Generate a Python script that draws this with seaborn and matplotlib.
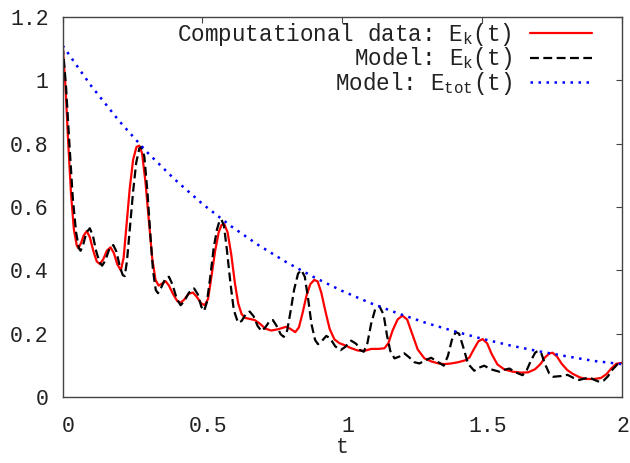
import numpy as np
import pandas as pd
import matplotlib
matplotlib.use("Agg")
import matplotlib.pyplot as plt
import matplotlib.transforms as mtransforms
import seaborn as sns

# ---- data ----
t_comp = [0.000, 0.010, 0.020, 0.030, 0.040, 0.050, 0.056, 0.065, 0.075, 0.086, 0.097, 0.110, 0.122, 0.133,
          0.145, 0.158, 0.171, 0.183, 0.195, 0.208, 0.218, 0.228, 0.240, 0.252, 0.264, 0.274, 0.284, 0.296,
          0.308, 0.320, 0.332, 0.343, 0.355, 0.368, 0.380, 0.395, 0.410, 0.422, 0.435, 0.450, 0.466, 0.480,
          0.495, 0.508, 0.520, 0.532, 0.545, 0.558, 0.568, 0.578, 0.590, 0.603, 0.616, 0.628, 0.640, 0.652,
          0.668, 0.687, 0.705, 0.725, 0.746, 0.770, 0.800, 0.815, 0.832, 0.845, 0.858, 0.872, 0.886, 0.900,
          0.912, 0.925, 0.940, 0.955, 0.972, 0.990, 1.008, 1.030, 1.055, 1.080, 1.104, 1.130, 1.151, 1.165,
          1.180, 1.198, 1.215, 1.232, 1.250, 1.270, 1.294, 1.320, 1.345, 1.365, 1.390, 1.415, 1.440, 1.455,
          1.470, 1.487, 1.502, 1.518, 1.535, 1.555, 1.580, 1.610, 1.640, 1.665, 1.690, 1.710, 1.725, 1.740,
          1.752, 1.768, 1.785, 1.805, 1.825, 1.850, 1.871, 1.900, 1.925, 1.945, 1.962, 1.980, 2.000]
ek_comp = [1.110, 0.980, 0.800, 0.640, 0.530, 0.480, 0.470, 0.485, 0.510, 0.524, 0.505, 0.460, 0.428, 0.420,
           0.435, 0.462, 0.473, 0.455, 0.420, 0.400, 0.440, 0.540, 0.660, 0.750, 0.790, 0.794, 0.770, 0.680,
           0.560, 0.440, 0.370, 0.352, 0.358, 0.366, 0.352, 0.325, 0.303, 0.298, 0.308, 0.326, 0.330, 0.316,
           0.296, 0.290, 0.310, 0.380, 0.460, 0.520, 0.543, 0.546, 0.520, 0.450, 0.360, 0.295, 0.262, 0.250,
           0.247, 0.243, 0.232, 0.216, 0.210, 0.214, 0.222, 0.215, 0.205, 0.220, 0.265, 0.320, 0.357, 0.370,
           0.365, 0.330, 0.270, 0.215, 0.182, 0.170, 0.164, 0.155, 0.147, 0.146, 0.152, 0.152, 0.154, 0.170,
           0.210, 0.245, 0.257, 0.245, 0.200, 0.150, 0.122, 0.112, 0.106, 0.104, 0.106, 0.110, 0.116, 0.125,
           0.150, 0.176, 0.183, 0.170, 0.135, 0.103, 0.087, 0.080, 0.077, 0.078, 0.088, 0.105, 0.125, 0.137,
           0.140, 0.128, 0.105, 0.085, 0.073, 0.062, 0.057, 0.057, 0.060, 0.072, 0.090, 0.105, 0.108]

t_model = [0.000, 0.012, 0.024, 0.036, 0.048, 0.058, 0.064, 0.073, 0.085, 0.097, 0.108, 0.120, 0.132, 0.141,
           0.152, 0.167, 0.181, 0.192, 0.205, 0.215, 0.222, 0.230, 0.240, 0.252, 0.263, 0.274, 0.282, 0.292,
           0.303, 0.313, 0.323, 0.333, 0.341, 0.352, 0.366, 0.380, 0.393, 0.408, 0.422, 0.435, 0.452, 0.470,
           0.483, 0.496, 0.506, 0.516, 0.528, 0.540, 0.552, 0.561, 0.568, 0.577, 0.588, 0.600, 0.612, 0.627,
           0.640, 0.655, 0.669, 0.683, 0.697, 0.711, 0.725, 0.740, 0.752, 0.765, 0.780, 0.791, 0.803, 0.815,
           0.828, 0.842, 0.854, 0.866, 0.878, 0.890, 0.903, 0.913, 0.928, 0.943, 0.957, 0.975, 0.994, 1.010,
           1.032, 1.050, 1.064, 1.077, 1.090, 1.103, 1.118, 1.133, 1.148, 1.160, 1.172, 1.187, 1.205, 1.222,
           1.240, 1.258, 1.276, 1.295, 1.318, 1.340, 1.363, 1.378, 1.392, 1.406, 1.418, 1.432, 1.450, 1.472,
           1.490, 1.508, 1.530, 1.562, 1.580, 1.598, 1.620, 1.645, 1.660, 1.675, 1.690, 1.700, 1.712, 1.725,
           1.740, 1.755, 1.780, 1.806, 1.828, 1.848, 1.866, 1.883, 1.900, 1.919, 1.935, 1.950, 1.965, 1.985,
           2.000]
ek_model = [1.110, 0.980, 0.800, 0.630, 0.520, 0.470, 0.462, 0.480, 0.520, 0.533, 0.510, 0.460, 0.425, 0.415,
            0.430, 0.468, 0.480, 0.460, 0.410, 0.385, 0.382, 0.430, 0.530, 0.650, 0.740, 0.785, 0.790, 0.760,
            0.650, 0.520, 0.400, 0.338, 0.328, 0.345, 0.372, 0.380, 0.355, 0.310, 0.290, 0.303, 0.330, 0.343,
            0.325, 0.285, 0.272, 0.300, 0.380, 0.470, 0.530, 0.556, 0.561, 0.540, 0.460, 0.360, 0.275, 0.235,
            0.240, 0.262, 0.270, 0.255, 0.225, 0.208, 0.220, 0.240, 0.243, 0.225, 0.198, 0.190, 0.210, 0.270,
            0.340, 0.390, 0.401, 0.380, 0.310, 0.230, 0.180, 0.167, 0.178, 0.193, 0.185, 0.160, 0.148, 0.158,
            0.178, 0.168, 0.148, 0.143, 0.170, 0.230, 0.278, 0.287, 0.260, 0.195, 0.145, 0.122, 0.128, 0.138,
            0.125, 0.110, 0.106, 0.115, 0.124, 0.112, 0.099, 0.130, 0.180, 0.205, 0.200, 0.160, 0.105, 0.083,
            0.093, 0.099, 0.088, 0.080, 0.086, 0.090, 0.078, 0.069, 0.085, 0.115, 0.140, 0.146, 0.138, 0.105,
            0.075, 0.064, 0.066, 0.070, 0.060, 0.054, 0.058, 0.062, 0.055, 0.048, 0.052, 0.065, 0.085, 0.104,
            0.108]

t_tot = [0.0, 0.1, 0.2, 0.3, 0.4, 0.5, 0.6, 0.7, 0.8, 0.9, 1.0, 1.1, 1.2, 1.3, 1.4, 1.5, 1.6, 1.7, 1.8, 1.9, 2.0]
e_tot = [1.110, 0.985, 0.874, 0.775, 0.688, 0.610, 0.541, 0.480, 0.426, 0.378, 0.335, 0.297, 0.264, 0.234,
         0.208, 0.184, 0.163, 0.145, 0.129, 0.114, 0.104]

x_ticks = [0, 0.5, 1, 1.5, 2]
x_tick_labels = ["0", "0.5", "1", "1.5", "2"]
y_ticks = [0, 0.2, 0.4, 0.6, 0.8, 1.0, 1.2]
y_tick_labels = ["0", "0.2", "0.4", "0.6", "0.8", "1", "1.2"]

lab_comp = r"Computational data: E$_\mathrm{k}$(t)"
lab_model = r"Model: E$_\mathrm{k}$(t)"
lab_tot = r"Model: E$_\mathrm{tot}$(t)"

# ---- style ----
sns.set_style("white")
plt.rcParams["font.family"] = ["Liberation Mono", "DejaVu Sans Mono"]
plt.rcParams["mathtext.fontset"] = "custom"
plt.rcParams["mathtext.rm"] = "Liberation Mono"
plt.rcParams["mathtext.it"] = "Liberation Mono"
plt.rcParams["mathtext.bf"] = "Liberation Mono"

FS = 15.5
LFS = 16.3
fig = plt.figure(figsize=(6.3, 4.63), dpi=100)
ax = fig.add_axes([0.0995, 0.1425, 0.8875, 0.8205])

df_c = pd.DataFrame({"t": t_comp, "E": ek_comp})
df_m = pd.DataFrame({"t": t_model, "E": ek_model})
df_t = pd.DataFrame({"t": t_tot, "E": e_tot})

sns.lineplot(data=df_c, x="t", y="E", ax=ax, color="#ff0000", lw=1.6, sort=False,
             estimator=None, label=lab_comp)
sns.lineplot(data=df_m, x="t", y="E", ax=ax, color="#000000", lw=1.6, sort=False,
             estimator=None, label=lab_model, dashes=False)
ax.lines[-1].set_dashes((4, 2))
sns.lineplot(data=df_t, x="t", y="E", ax=ax, color="#0000ff", lw=1.8, sort=False,
             estimator=None, label=lab_tot)
ax.lines[-1].set_dashes((1.0, 2.2))

ax.set_xlim(0, 2)
ax.set_ylim(0, 1.2)
ax.set_xticks(x_ticks)
ax.set_xticklabels(x_tick_labels)
ax.set_yticks(y_ticks)
ax.set_yticklabels(y_tick_labels)
ax.set_xlabel("t", fontsize=FS, labelpad=0)
ax.set_ylabel("")

ax.tick_params(axis="both", which="both", direction="in", length=4.5, width=0.8,
               color="#444444", labelsize=FS, labelcolor="#222222",
               top=True, right=True)
ax.tick_params(axis="x", pad=14)
ax.tick_params(axis="y", pad=10)
for sp in ax.spines.values():
    sp.set_visible(True)
    sp.set_color("#444444")
    sp.set_linewidth(1.0)

# gnuplot-like slight right shift of x tick labels
xlbls = ax.get_xticklabels()
for i, lbl in enumerate(xlbls):
    dx = 6 if i < len(xlbls) - 1 else 1
    lbl.set_transform(lbl.get_transform() +
                      mtransforms.ScaledTranslation(dx / 100, 0, fig.dpi_scale_trans))

leg = ax.legend(loc="upper right", bbox_to_anchor=(0.975, 1.031), frameon=False,
                markerfirst=False, fontsize=LFS, handlelength=2.75, handletextpad=0.8,
                labelspacing=-0.12, borderpad=0.2)
for txt in leg.get_texts():
    txt.set_color("#222222")

fig.savefig("out.png", dpi=100)
